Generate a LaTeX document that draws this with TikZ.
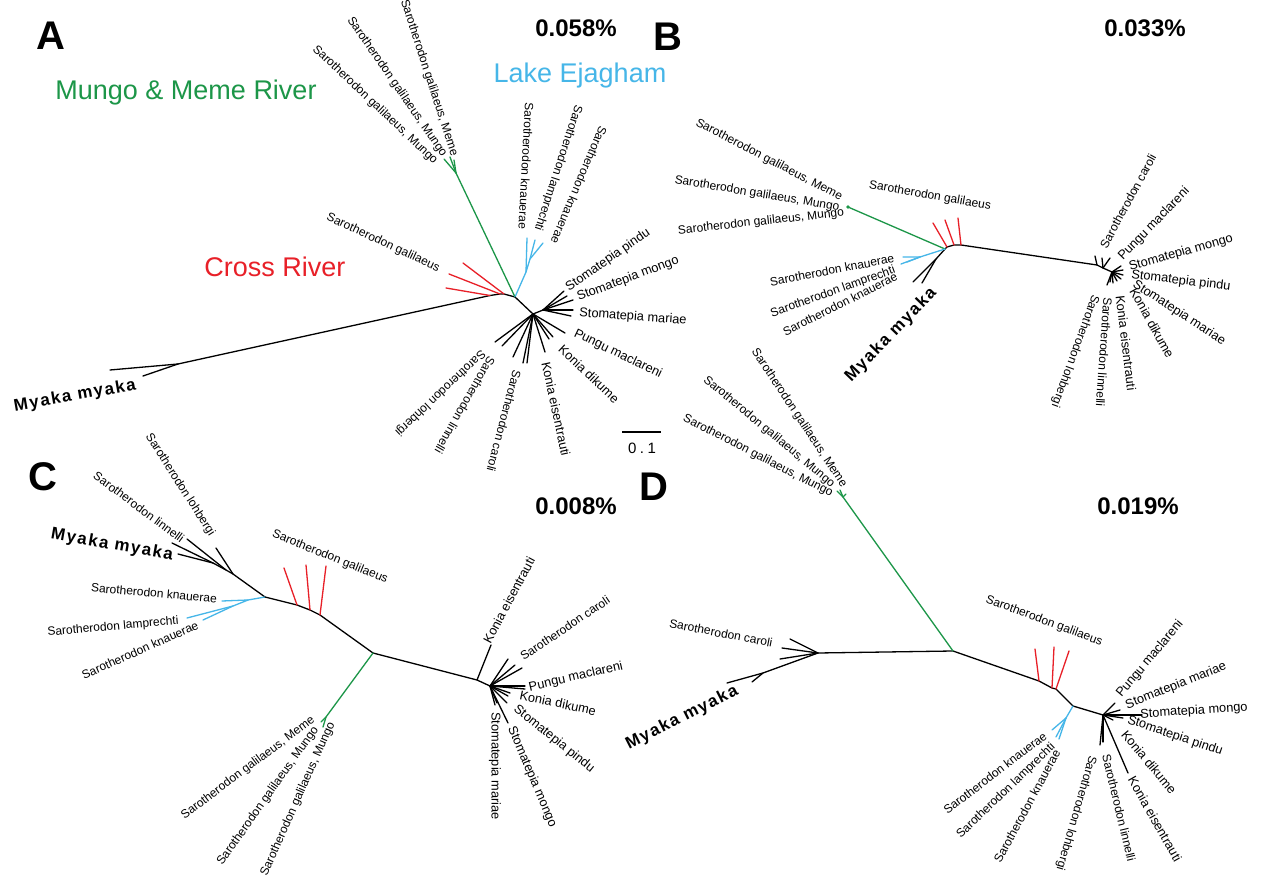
\documentclass[tikz,border=0pt]{standalone}
\usepackage{fontspec}
\setmainfont{Liberation Sans}
\newfontfamily\mybold[LetterSpace=9]{Liberation Sans}
\definecolor{tgreen}{RGB}{28,150,72}
\definecolor{tblue}{RGB}{70,182,232}
\definecolor{tred}{RGB}{232,32,40}
\begin{document}
\begin{tikzpicture}[x=1pt,y=-1pt,
  br/.style={line width=1.3pt,line cap=round,line join=round},
  rb/.style={br,tred},
  gb/.style={br,tgreen},
  bb/.style={br,tblue},
  lab/.style={inner sep=0pt,font=\fontsize{12}{14}\selectfont},
  labk/.style={inner sep=0pt,font=\fontsize{12.8}{15}\selectfont},
  myk/.style={inner sep=0pt,font=\mybold\fontsize{17}{19}\selectfont\bfseries},
  pl/.style={inner sep=0pt,font=\fontsize{40}{44}\selectfont\bfseries},
  pct/.style={inner sep=0pt,font=\fontsize{24}{26}\selectfont\bfseries},
  reg/.style={inner sep=0pt,font=\fontsize{27}{30}\selectfont}]
\fill[white] (0,0) rectangle (1264,877);
\useasboundingbox (0,0) rectangle (1264,877);

% ================= Panel A =================
\node[pl] (PA) at (51,36) {A};
\node[pct] (QA) at (576,28) {0.058\%};
\node[reg,tgreen] (RA1) at (186,93) {Mungo \& Meme River};
\node[reg,tblue] (RA2) at (580,76) {Lake Ejagham};
\node[reg,tred] (RA3) at (275,267) {Cross River};

\coordinate (Amy) at (178,364);
\coordinate (Amy1) at (110,370);
\coordinate (Amy2) at (143,376);
\coordinate (Ar1) at (490,295.5);
\coordinate (Ar2) at (500,294);
\coordinate (Ar3) at (504,294);
\coordinate (Ao) at (515,297);
\coordinate (Art1) at (446,288);
\coordinate (Art2) at (449,274);
\coordinate (Art3) at (463,263);
\coordinate (Ag) at (456,173);
\coordinate (Agt1) at (444,159);
\coordinate (Agt2) at (450,157);
\coordinate (Agt3) at (454,160);
\coordinate (Ab1) at (526,272);
\coordinate (Abt1) at (527,238);
\coordinate (Ab2) at (530,259);
\coordinate (Abt2) at (535,240);
\coordinate (Abt3) at (543,243);
\coordinate (As) at (533,314);
\coordinate (Au) at (543,310);
\coordinate (Aut1) at (564,291);
\coordinate (Aut2) at (567,296);
\coordinate (Aut3) at (573,300);
\coordinate (Aut4) at (573,310);
\coordinate (Aut5) at (571,316);
\coordinate (Apu) at (565,333);
\coordinate (Akd1) at (553,337);
\coordinate (Akd2) at (549,339);
\coordinate (Akei) at (545,352);
\coordinate (Aca1) at (513,357);
\coordinate (Aca2) at (523,363);
\coordinate (Aca3) at (527,363);
\coordinate (Alo) at (495,342);
\coordinate (Ali) at (502,346);

\draw[br] (Amy1) -- (Amy) -- (Ar1) -- (Ar2) -- (Ar3) -- (Ao);
\draw[br] (Amy2) -- (Amy);
\draw[rb] (Ar1) -- (Art1);
\draw[rb] (Ar2) -- (Art2);
\draw[rb] (Ar3) -- (Art3);
\draw[gb] (Ao) -- (Ag);
\draw[gb] (Ag) -- (Agt1);
\draw[gb] (Ag) -- (Agt2);
\draw[gb] (Ag) -- (Agt3);
\draw[bb] (Ao) -- (Ab1) -- (Abt1);
\draw[bb] (Ab1) -- (Ab2) -- (Abt2);
\draw[bb] (Ab2) -- (Abt3);
\draw[br] (Ao) -- (As) -- (Au);
\foreach \t in {Aut1,Aut2,Aut3,Aut4,Aut5} \draw[br] (Au) -- (\t);
\foreach \t in {Apu,Akd1,Akd2,Akei,Aca1,Aca2,Aca3,Alo,Ali} \draw[br] (As) -- (\t);

\node[lab,rotate=-72] (LA1) at (429,78) {Sarotherodon galilaeus, Meme};
\node[lab,rotate=-55.4] (LA2) at (397,87) {Sarotherodon galilaeus, Mungo};
\node[lab,rotate=-43.3] (LA3) at (375,105) {Sarotherodon galilaeus, Mungo};
\node[lab,rotate=-93] (LA4) at (526,166) {Sarotherodon knauerae};
\node[lab,rotate=-108] (LA5) at (558,168) {Sarotherodon lamprechti};
\node[lab,rotate=-113] (LA6) at (579,185) {Sarotherodon knauerae};
\node[lab,rotate=-25] (LA7) at (383,243) {Sarotherodon galilaeus};
\node[labk,rotate=35] (LA8) at (608,260) {Stomatepia pindu};
\node[labk,rotate=20.6] (LA9) at (628,279) {Stomatepia mongo};
\node[labk,rotate=-4] (LA10) at (633,317) {Stomatepia mariae};
\node[labk,rotate=-25.8] (LA11) at (618,354) {Pungu maclareni};
\node[labk,rotate=-43.5] (LA12) at (589,374) {Konia dikume};
\node[labk,rotate=-77.8] (LA13) at (556,409) {Konia eisentrauti};
\node[lab,rotate=-104.7] (LA14) at (504,421) {Sarotherodon caroli};
\node[lab,rotate=-119.7] (LA15) at (465,405) {Sarotherodon linnelli};
\node[lab,rotate=-136.6] (LA16) at (440,393) {Sarotherodon lohbergi};
\node[myk,rotate=10] (LA17) at (75,396) {Myaka myaka};

\coordinate (SB1) at (622,432);
\coordinate (SB2) at (661,432);
\draw[line width=1.3pt] (SB1) -- (SB2);
\node[inner sep=0pt,font=\fontsize{15}{17}\selectfont] (SBL) at (642,448) {0\hspace{3.5pt}.\hspace{3.5pt}1};

% ================= Panel B =================
\node[pl] (PB) at (668,37) {B};
\node[pct] (QB) at (1145,28) {0.033\%};

\coordinate (Bn) at (945,249);
\coordinate (Bg) at (848,207);
\coordinate (Bb1) at (920,257);
\coordinate (Bbt1) at (903,257);
\coordinate (Bbt2) at (901,264);
\coordinate (Bbt3) at (907,262);
\coordinate (Bm) at (936,259);
\coordinate (Bmt1) at (913,282);
\coordinate (Bmt2) at (922,283);
\coordinate (Br1) at (947,247);
\coordinate (Br2) at (954,245);
\coordinate (Br3) at (961,245);
\coordinate (Brt1) at (933,223);
\coordinate (Brt2) at (945,220);
\coordinate (Brt3) at (958,218);
\coordinate (Bc1) at (1097,265);
\coordinate (Bc2) at (1103,268);
\coordinate (Bx) at (1112,272);
\coordinate (Bct1) at (1095,256);
\coordinate (Bct2) at (1102,258);
\coordinate (Bct3) at (1110,258);
\coordinate (Bt1) at (1121,266);
\coordinate (Bt2) at (1123,270);
\coordinate (Bt3) at (1123,275);
\coordinate (Bt4) at (1121,279);
\coordinate (Bt5) at (1117,281);
\coordinate (Bt6) at (1113,283);
\coordinate (Bt7) at (1107,285);
\coordinate (Bt8) at (1110,282);

\draw[br] (Bn) -- (Br1) -- (Br2) -- (Br3) -- (Bc1) -- (Bc2) -- (Bx);
\draw[br] (Bn) -- (Bm) -- (Bmt1);
\draw[br] (Bm) -- (Bmt2);
\draw[br] (Bc1) -- (Bct1);
\draw[br] (Bc2) -- (Bct2);
\draw[br] (Bc2) -- (Bct3);
\foreach \t in {Bt1,Bt2,Bt3,Bt4,Bt5,Bt6,Bt7,Bt8} \draw[br] (Bx) -- (\t);
\draw[rb] (Br1) -- (Brt1);
\draw[rb] (Br2) -- (Brt2);
\draw[rb] (Br3) -- (Brt3);
\draw[gb] (Bn) -- (Bg);
\fill[tgreen] (Bg) circle (1.8);
\draw[bb] (Bn) -- (Bb1) -- (Bbt1);
\draw[bb] (Bb1) -- (Bbt2);
\draw[bb] (Bb1) -- (Bbt3);

\node[lab,rotate=-27.5] (LB1) at (769,160) {Sarotherodon galilaeus, Meme};
\node[lab,rotate=-9.6] (LB2) at (757,194) {Sarotherodon galilaeus, Mungo};
\node[lab,rotate=6.2] (LB3) at (761,222) {Sarotherodon galilaeus, Mungo};
\node[lab,rotate=-10] (LB4) at (930,196) {Sarotherodon galilaeus};
\node[lab,rotate=61.5] (LB5) at (1128,201) {Sarotherodon caroli};
\node[labk,rotate=46] (LB6) at (1154,224) {Pungu maclareni};
\node[labk,rotate=16] (LB7) at (1181,253) {Stomatepia mongo};
\node[labk,rotate=-7] (LB8) at (1181,281) {Stomatepia pindu};
\node[labk,rotate=-33] (LB9) at (1179,313) {Stomatepia mariae};
\node[labk,rotate=-61] (LB10) at (1152,323) {Konia dikume};
\node[labk,rotate=-83] (LB11) at (1126,343) {Konia eisentrauti};
\node[lab,rotate=-94] (LB12) at (1104,352) {Sarotherodon linnelli};
\node[lab,rotate=-110] (LB13) at (1075,351) {Sarotherodon lohbergi};
\node[myk,rotate=46] (LB14) at (891,335) {Myaka myaka};
\node[lab,rotate=10.8] (LB15) at (832,270) {Sarotherodon knauerae};
\node[lab,rotate=19.7] (LB16) at (833,292) {Sarotherodon lamprechti};
\node[lab,rotate=26.6] (LB17) at (840,304) {Sarotherodon knauerae};

% ================= Panel C =================
\node[pl] (PC) at (43,477) {C};
\node[pct] (QC) at (576,506) {0.008\%};

\coordinate (Cn1) at (265,597);
\coordinate (Cn2) at (233,574);
\coordinate (Cl) at (226,570);
\coordinate (Cn3) at (213,563);
\coordinate (Clo) at (216,548);
\coordinate (Cli) at (187,539);
\coordinate (Cmy1) at (172,543);
\coordinate (Cmy2) at (178,554);
\coordinate (Cb1) at (248,600);
\coordinate (Cbt1) at (222,601);
\coordinate (Cb2) at (233,606);
\coordinate (Cbt2) at (187,618);
\coordinate (Cbt3) at (203,620);
\coordinate (Cr1) at (297,605);
\coordinate (Cr2) at (310,610);
\coordinate (Cr3) at (320,615);
\coordinate (Crt1) at (284,568);
\coordinate (Crt2) at (306,565);
\coordinate (Crt3) at (326,566);
\coordinate (Cn5) at (373,653);
\coordinate (Cg) at (326,717);
\coordinate (Cgt1) at (321,722);
\coordinate (Cgt2) at (323,727);
\coordinate (Cn6) at (477,680);
\coordinate (Ckei) at (491,645);
\coordinate (Cn7) at (490,686);
\coordinate (Ct1) at (508,659);
\coordinate (Ct2) at (515,665);
\coordinate (Ct3) at (522,668);
\coordinate (Ct4) at (525,686);
\coordinate (Ct5) at (525,689);
\coordinate (Ct6) at (510,693);
\coordinate (Ct7) at (508,696);
\coordinate (Ct8) at (507,703);
\coordinate (Ct9) at (497,703);
\coordinate (Ct10) at (495,705);
\coordinate (Ct11) at (508,723);

\draw[br] (Cn3) -- (Cl) -- (Cn2) -- (Cn1);
\draw[br] (Cn2) -- (Clo);
\draw[br] (Cl) -- (Cli);
\draw[br] (Cn3) -- (Cmy1);
\draw[br] (Cn3) -- (Cmy2);
\draw[bb] (Cn1) -- (Cb1) -- (Cbt1);
\draw[bb] (Cb1) -- (Cb2) -- (Cbt2);
\draw[bb] (Cb2) -- (Cbt3);
\draw[br] (Cn1) -- (Cr1) -- (Cr2) -- (Cr3) -- (Cn5) -- (Cn6) -- (Cn7);
\draw[rb] (Cr1) -- (Crt1);
\draw[rb] (Cr2) -- (Crt2);
\draw[rb] (Cr3) -- (Crt3);
\draw[gb] (Cn5) -- (Cg) -- (Cgt1);
\draw[gb] (Cg) -- (Cgt2);
\draw[br] (Cn6) -- (Ckei);
\foreach \t in {Ct1,Ct2,Ct3,Ct4,Ct5,Ct6,Ct7,Ct8,Ct9,Ct10,Ct11} \draw[br] (Cn7) -- (\t);

\node[lab,rotate=-57.5] (LC1) at (180,485) {Sarotherodon lohbergi};
\node[lab,rotate=-36.5] (LC2) at (139,507) {Sarotherodon linnelli};
\node[myk,rotate=-10] (LC3) at (112,545) {Myaka myaka};
\node[lab,rotate=-22] (LC4) at (330,557) {Sarotherodon galilaeus};
\node[lab,rotate=-5] (LC5) at (154,593) {Sarotherodon knauerae};
\node[lab,rotate=5] (LC6) at (113,627) {Sarotherodon lamprechti};
\node[lab,rotate=24] (LC7) at (140,650) {Sarotherodon knauerae};
\node[lab,rotate=37] (LC8) at (248,768) {Sarotherodon galilaeus, Meme};
\node[lab,rotate=54.7] (LC9) at (268,796) {Sarotherodon galilaeus, Mungo};
\node[lab,rotate=66] (LC10) at (298,799) {Sarotherodon galilaeus, Mungo};
\node[labk,rotate=62] (LC11) at (509,600) {Konia eisentrauti};
\node[lab,rotate=34] (LC12) at (565,628) {Sarotherodon caroli};
\node[labk,rotate=13] (LC13) at (576,677) {Pungu maclareni};
\node[labk,rotate=-12] (LC14) at (558,703) {Konia dikume};
\node[labk,rotate=-38.7] (LC15) at (554,739) {Stomatepia pindu};
\node[labk,rotate=-67] (LC16) at (532,777) {Stomatepia mongo};
\node[labk,rotate=-90] (LC17) at (495,766) {Stomatepia mariae};

% ================= Panel D =================
\node[pl] (PD) at (654,487) {D};
\node[pct] (QD) at (1138,506) {0.019\%};

\coordinate (Dn) at (953,651);
\coordinate (Dg) at (843,497);
\coordinate (Dgt1) at (837,491);
\coordinate (Dgt2) at (840,490);
\coordinate (Dgt3) at (846,494);
\coordinate (Dc) at (818,653);
\coordinate (Dct1) at (790,639);
\coordinate (Dct2) at (782,648);
\coordinate (Dct3) at (780,659);
\coordinate (Dm) at (763,673);
\coordinate (Dmt1) at (727,683);
\coordinate (Dmt2) at (752,682);
\coordinate (Dr1) at (1039,681);
\coordinate (Dr2) at (1052,688);
\coordinate (Dr3) at (1056,689);
\coordinate (Drt1) at (1035,649);
\coordinate (Drt2) at (1054,647);
\coordinate (Drt3) at (1069,651);
\coordinate (Db) at (1073,706);
\coordinate (Db1) at (1066,718);
\coordinate (Dbt1) at (1052,730);
\coordinate (Dbt2) at (1056,737);
\coordinate (Dbt3) at (1059,739);
\coordinate (Dx) at (1103,715);
\coordinate (Dt1) at (1115,703);
\coordinate (Dt2) at (1120,710);
\coordinate (Dt3) at (1142,715);
\coordinate (Dt4) at (1123,718);
\coordinate (Dt5) at (1113,720);
\coordinate (Dt6) at (1128,773);
\coordinate (Dt7) at (1103,742);
\coordinate (Dt8) at (1100,745);

\draw[br] (Dmt1) -- (Dm) -- (Dc) -- (Dn) -- (Dr1) -- (Dr2) -- (Dr3) -- (Db) -- (Dx);
\draw[br] (Dm) -- (Dmt2);
\foreach \t in {Dct1,Dct2,Dct3} \draw[br] (Dc) -- (\t);
\draw[gb] (Dn) -- (Dg);
\foreach \t in {Dgt1,Dgt2,Dgt3} \draw[gb] (Dg) -- (\t);
\draw[rb] (Dr1) -- (Drt1);
\draw[rb] (Dr2) -- (Drt2);
\draw[rb] (Dr3) -- (Drt3);
\draw[bb] (Db) -- (Db1);
\foreach \t in {Dbt1,Dbt2,Dbt3} \draw[bb] (Db1) -- (\t);
\foreach \t in {Dt1,Dt2,Dt3,Dt4,Dt5,Dt6,Dt7,Dt8} \draw[br] (Dx) -- (\t);

\node[lab,rotate=-56.5] (LD1) at (799,418) {Sarotherodon galilaeus, Meme};
\node[lab,rotate=-39.8] (LD2) at (769,432) {Sarotherodon galilaeus, Mungo};
\node[lab,rotate=-27.3] (LD3) at (758,456) {Sarotherodon galilaeus, Mungo};
\node[myk,rotate=27] (LD4) at (682,718) {Myaka myaka};
\node[lab,rotate=-11] (LD5) at (721,633) {Sarotherodon caroli};
\node[lab,rotate=-20.6] (LD6) at (1044,621) {Sarotherodon galilaeus};
\node[labk,rotate=50] (LD7) at (1150,659) {Pungu maclareni};
\node[labk,rotate=21.8] (LD8) at (1176,686) {Stomatepia mariae};
\node[labk,rotate=4] (LD9) at (1194,711) {Stomatepia mongo};
\node[labk,rotate=-18.8] (LD10) at (1175,736) {Stomatepia pindu};
\node[labk,rotate=-50] (LD11) at (1149,762) {Konia dikume};
\node[labk,rotate=-60.5] (LD12) at (1155,819) {Konia eisentrauti};
\node[lab,rotate=-76.5] (LD13) at (1119,808) {Sarotherodon linnelli};
\node[lab,rotate=-106] (LD14) at (1076,813) {Sarotherodon lohbergi};
\node[lab,rotate=37.4] (LD15) at (995,773) {Sarotherodon knauerae};
\node[lab,rotate=43.9] (LD16) at (1006,791) {Sarotherodon lamprechti};
\node[lab,rotate=61.5] (LD17) at (1027,806) {Sarotherodon knauerae};
\end{tikzpicture}
\end{document}
